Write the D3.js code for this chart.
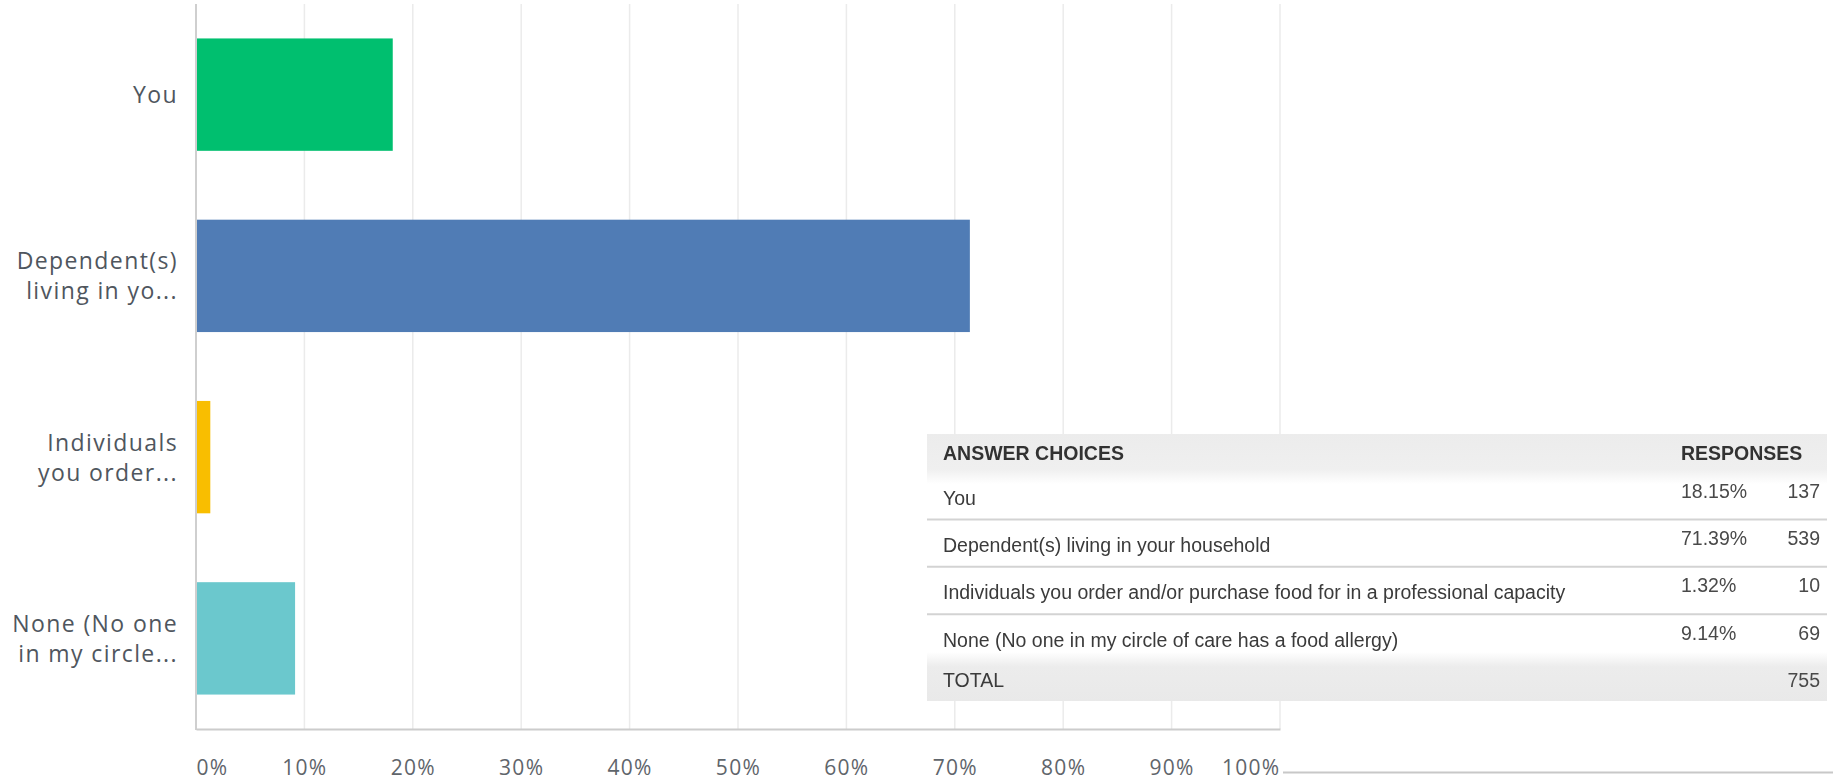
<!DOCTYPE html>
<html>
<head>
<meta charset="utf-8">
<script src="https://cdn.jsdelivr.net/npm/d3@7"></script>
<style>
  html, body { margin: 0; padding: 0; background: #fff; }
  svg { display: block; }
</style>
</head>
<body>
<svg id="chart" width="1833" height="781"></svg>
<script>
// Survey answer choices and their results
const categories = [
  "You",
  "Dependent(s) living in your household",
  "Individuals you order and/or purchase food for in a professional capacity",
  "None (No one in my circle of care has a food allergy)"
];
const axisLabels = [
  ["You"],
  ["Dependent(s)", "living in yo..."],
  ["Individuals", "you order..."],
  ["None (No one", "in my circle..."]
];
const percents = [18.15, 71.39, 1.32, 9.14];
const counts = [137, 539, 10, 69];
const totalCount = 755;
const barColors = ["#00bf6f", "#507cb5", "#f9be00", "#6bc8cd"];
const tickValues = [0, 10, 20, 30, 40, 50, 60, 70, 80, 90, 100];

const svg = d3.select("#chart");

const x = d3.scaleLinear().domain([0, 100]).range([196, 1280]);
const y = d3.scaleBand().domain(categories).range([4, 729])
  .paddingInner(0.38).paddingOuter(0.19);

// vertical gridlines
svg.append("g").selectAll("line").data(tickValues.slice(1)).join("line")
  .attr("x1", d => x(d)).attr("x2", d => x(d))
  .attr("y1", 4).attr("y2", 729)
  .attr("stroke", "#ebebeb").attr("stroke-width", 1.5);

// bars
svg.append("g").selectAll("rect").data(categories).join("rect")
  .attr("x", x(0))
  .attr("y", d => y(d))
  .attr("width", (d, i) => x(percents[i]) - x(0))
  .attr("height", y.bandwidth())
  .attr("fill", (d, i) => barColors[i]);

// left axis line
svg.append("line")
  .attr("x1", x(0)).attr("x2", x(0)).attr("y1", 4).attr("y2", 730)
  .attr("stroke", "#cfcfcf").attr("stroke-width", 2);

// category labels
const labelFont = "'Open Sans', 'Noto Sans', sans-serif";
const catG = svg.append("g");
categories.forEach((c, i) => {
  const lines = axisLabels[i];
  const cy = y(c) + y.bandwidth() / 2;
  catG.append("text")
    .attr("text-anchor", "end")
    .attr("font-family", labelFont)
    .attr("font-size", 23)
    .attr("letter-spacing", 1.4)
    .attr("fill", "#4f565e")
    .selectAll("tspan").data(lines).join("tspan")
    .attr("x", 178)
    .attr("y", (d, j) => cy + 8.5 + (j - (lines.length - 1) / 2) * 30)
    .text(d => d);
});

// bottom axis
const xAxis = d3.axisBottom(x).tickValues(tickValues)
  .tickFormat(d => d + "%").tickSize(0);
const axG = svg.append("g").attr("transform", "translate(0,729)").call(xAxis);
axG.select(".domain").attr("stroke", "#cccccc").attr("stroke-width", 2);
axG.selectAll(".tick text")
  .attr("y", 45.5).attr("dy", 0)
  .attr("font-family", labelFont)
  .attr("font-size", 21)
  .attr("letter-spacing", 1.3)
  .attr("fill", "#5f656b")
  .attr("text-anchor", (d, i) => i === 0 ? "start" : (i === tickValues.length - 1 ? "end" : "middle"));

// rule running right from the axis end
svg.append("line")
  .attr("x1", x(100) + 3).attr("x2", 1833)
  .attr("y1", 772.5).attr("y2", 772.5)
  .attr("stroke", "#c8c8c8").attr("stroke-width", 2);

// ---- results table ----
const defs = svg.append("defs");
const soft = defs.append("filter").attr("id", "soft")
  .attr("x", "-2%").attr("y", "-10%").attr("width", "104%").attr("height", "120%");
soft.append("feGaussianBlur").attr("stdDeviation", 0.45);

const gHead = defs.append("linearGradient").attr("id", "headFill")
  .attr("x1", 0).attr("y1", 0).attr("x2", 0).attr("y2", 1);
gHead.append("stop").attr("offset", "0%").attr("stop-color", "#ececec");
gHead.append("stop").attr("offset", "70%").attr("stop-color", "#efefef");
gHead.append("stop").attr("offset", "100%").attr("stop-color", "#ffffff");

const gTot = defs.append("linearGradient").attr("id", "totFill")
  .attr("x1", 0).attr("y1", 0).attr("x2", 0).attr("y2", 1);
gTot.append("stop").attr("offset", "0%").attr("stop-color", "#ffffff");
gTot.append("stop").attr("offset", "30%").attr("stop-color", "#ececec");
gTot.append("stop").attr("offset", "100%").attr("stop-color", "#e9e9e9");

const tX0 = 927, tX1 = 1827, tY0 = 434, tY1 = 701;
const table = svg.append("g");
table.append("rect").attr("x", tX0).attr("y", tY0)
  .attr("width", tX1 - tX0).attr("height", tY1 - tY0).attr("fill", "#ffffff");
table.append("rect").attr("x", tX0).attr("y", tY0)
  .attr("width", tX1 - tX0).attr("height", 50).attr("fill", "url(#headFill)");
table.append("rect").attr("x", tX0).attr("y", 652)
  .attr("width", tX1 - tX0).attr("height", tY1 - 652).attr("fill", "url(#totFill)");

const rowBase = [505, 551.7, 599, 646.7];
const sepY = [519.5, 566.8, 614.3];
table.selectAll("line.sep").data(sepY).join("line")
  .attr("class", "sep")
  .attr("x1", tX0).attr("x2", tX1).attr("y1", d => d).attr("y2", d => d)
  .attr("stroke", "#d3d3d3").attr("stroke-width", 2);

const tFont = "'Liberation Sans', Arial, sans-serif";
const txt = table.append("g").attr("filter", "url(#soft)")
  .attr("font-family", tFont).attr("font-size", 19.5);

txt.append("text").attr("x", 943).attr("y", 460)
  .attr("font-weight", "bold").attr("fill", "#333").text("ANSWER CHOICES");
txt.append("text").attr("x", 1681).attr("y", 460)
  .attr("font-weight", "bold").attr("fill", "#333").text("RESPONSES");

txt.selectAll("text.cat").data(categories).join("text")
  .attr("class", "cat")
  .attr("x", 943).attr("y", (d, i) => rowBase[i])
  .attr("fill", "#3a3a3a").text(d => d);
txt.selectAll("text.pct").data(percents).join("text")
  .attr("class", "pct")
  .attr("x", 1681).attr("y", (d, i) => rowBase[i] - 7)
  .attr("fill", "#4a4a4a").text(d => d.toFixed(2) + "%");
txt.selectAll("text.cnt").data(counts).join("text")
  .attr("class", "cnt")
  .attr("x", 1820).attr("y", (d, i) => rowBase[i] - 7)
  .attr("text-anchor", "end")
  .attr("fill", "#4a4a4a").text(d => d);

txt.append("text").attr("x", 943).attr("y", 687)
  .attr("fill", "#3a3a3a").text("TOTAL");
txt.append("text").attr("x", 1820).attr("y", 687)
  .attr("text-anchor", "end").attr("fill", "#4a4a4a").text(totalCount);
</script>
</body>
</html>
